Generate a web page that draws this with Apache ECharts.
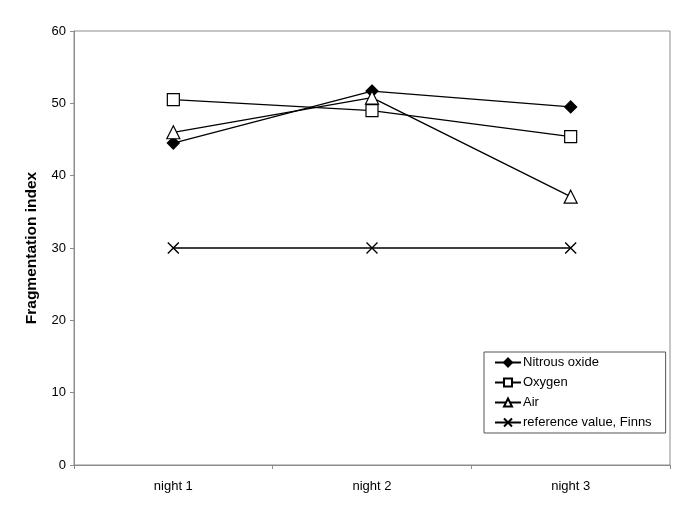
<!DOCTYPE html>
<html>
<head>
<meta charset="utf-8">
<script src="https://cdn.jsdelivr.net/npm/echarts@6/dist/echarts.min.js"></script>
<style>
html,body{margin:0;padding:0;background:#fff;}
#chart{width:685px;height:512px;}
</style>
</head>
<body>
<div id="chart"></div>
<script>
var categories = ['night 1', 'night 2', 'night 3'];
var nitrousOxide = [44.5, 51.7, 49.5];
var oxygen = [50.5, 49.0, 45.4];
var air = [46.0, 50.8, 37.1];
var referenceFinns = [30, 30, 30];
var yTicks = [0, 10, 20, 30, 40, 50, 60];
var seriesNames = ['Nitrous oxide', 'Oxygen', 'Air', 'reference value, Finns'];

var crossPath = 'path://M0,0L10,10M10,0L0,10';
var font = 'Liberation Sans, Arial, sans-serif';

var chart = echarts.init(document.getElementById('chart'), null, {renderer: 'canvas'});

function mk(name, data, symbol, size, fill, extra) {
  return Object.assign({
    name: name,
    type: 'line',
    data: data,
    symbol: symbol,
    symbolSize: size,
    showAllSymbol: true,
    lineStyle: {color: '#000', width: 1.3},
    itemStyle: {color: fill, borderColor: '#000', borderWidth: 1.2},
    emphasis: {disabled: true},
    animation: false
  }, extra || {});
}

chart.setOption({
  animation: false,
  textStyle: {fontFamily: font},
  grid: {left: 74, right: 15, top: 31, bottom: 47, show: true, borderColor: '#8c8c8c', borderWidth: 1, backgroundColor: '#fff'},
  xAxis: {
    type: 'category',
    data: categories,
    boundaryGap: true,
    axisLine: {lineStyle: {color: '#8c8c8c', width: 1}},
    axisTick: {show: true, length: 4, lineStyle: {color: '#8c8c8c'}},
    axisLabel: {color: '#000', fontSize: 13, margin: 15, fontFamily: font},
    splitLine: {show: false}
  },
  yAxis: {
    type: 'value',
    min: yTicks[0],
    max: yTicks[yTicks.length - 1],
    interval: 10,
    name: 'Fragmentation index',
    nameLocation: 'middle',
    nameGap: 34,
    nameTextStyle: {color: '#000', fontSize: 15.5, fontWeight: 'bold', fontFamily: font},
    axisLine: {show: true, lineStyle: {color: '#8c8c8c', width: 1}},
    axisTick: {show: true, length: 4, lineStyle: {color: '#8c8c8c'}},
    axisLabel: {color: '#000', fontSize: 13, margin: 8, fontFamily: font},
    splitLine: {show: false}
  },
  legend: {
    orient: 'vertical',
    left: 484,
    top: 352,
    padding: [4, 14, 4, 10],
    itemWidth: 26,
    itemHeight: 10,
    itemGap: 7,
    borderColor: '#555',
    borderWidth: 1,
    backgroundColor: '#fff',
    textStyle: {color: '#000', fontSize: 13, fontFamily: font, padding: [0, 0, 0, -3]},
    data: seriesNames.map(function (n) { return {name: n}; })
  },
  series: [
    mk(seriesNames[0], nitrousOxide, 'diamond', 12, '#000'),
    mk(seriesNames[1], oxygen, 'rect', 12, '#fff'),
    mk(seriesNames[2], air, 'triangle', 13, '#fff'),
    mk(seriesNames[3], referenceFinns, crossPath, 11, '#000', {itemStyle: {color: 'none', borderColor: '#000', borderWidth: 1.4}})
  ]
});
</script>
</body>
</html>
